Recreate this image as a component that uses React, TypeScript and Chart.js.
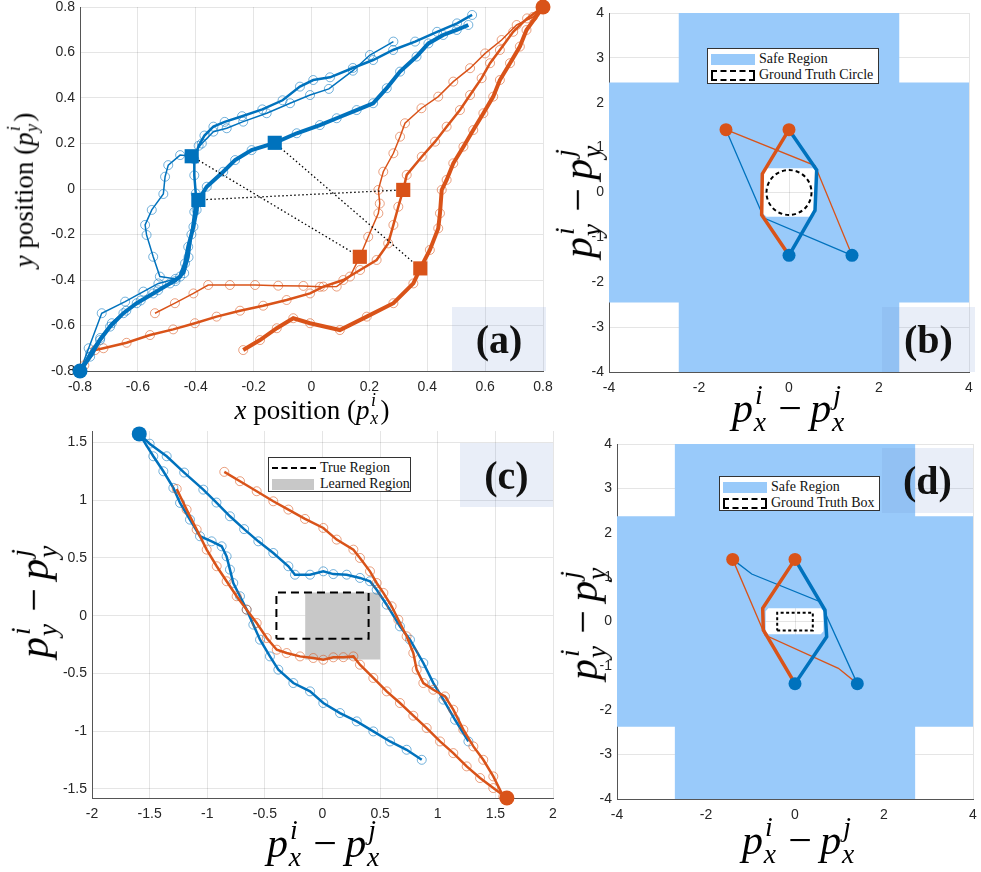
import React, { useEffect, useRef } from 'react';
import { Chart, registerables } from 'chart.js';
Chart.register(...registerables);

type Pt = [number, number];

const BLUE = '#0072BD';
const ORANGE = '#D95319';
const BLUE_MK = 'rgba(0,114,189,0.55)';
const ORANGE_MK = 'rgba(217,83,25,0.55)';
const SAFE = 'rgb(153,202,250)';
const TICK_FONT = "'Liberation Sans', Arial, sans-serif";
const SERIF = "'Liberation Serif', 'Times New Roman', serif";

// ---------- Panel (a) ----------
const aXTicks = [-0.8, -0.6, -0.4, -0.2, 0, 0.2, 0.4, 0.6, 0.8];
const aXTickLabels = ['-0.8', '-0.6', '-0.4', '-0.2', '0', '0.2', '0.4', '0.6', '0.8'];
const aYTicks = [-0.8, -0.6, -0.4, -0.2, 0, 0.2, 0.4, 0.6, 0.8];
const aYTickLabels = ['-0.8', '-0.6', '-0.4', '-0.2', '0', '0.2', '0.4', '0.6', '0.8'];

const aBlueThin: Pt[] = [[-0.8, -0.8], [-0.77, -0.7], [-0.725, -0.546], [-0.644, -0.495], [-0.581, -0.451], [-0.529, -0.415], [-0.47, -0.395], [-0.524, -0.385], [-0.547, -0.298], [-0.57, -0.202], [-0.575, -0.158], [-0.552, -0.092], [-0.512, -0.022], [-0.506, 0.054], [-0.495, 0.105], [-0.454, 0.149], [-0.414, 0.144], [-0.379, 0.2], [-0.339, 0.252], [-0.293, 0.267], [-0.236, 0.296], [-0.155, 0.333], [-0.074, 0.377], [-0.005, 0.413], [0.06, 0.44], [0.143, 0.52], [0.202, 0.589], [0.283, 0.648]];
const aBlueMed: Pt[] = [[-0.8, -0.8], [-0.765, -0.72], [-0.73, -0.655], [-0.69, -0.59], [-0.64, -0.535], [-0.59, -0.49], [-0.53, -0.445], [-0.47, -0.405], [-0.44, -0.37], [-0.425, -0.3], [-0.415, -0.2], [-0.405, -0.1], [-0.4, -0.02], [-0.405, 0.06], [-0.405, 0.13], [-0.39, 0.19], [-0.37, 0.235], [-0.339, 0.274], [-0.3, 0.295], [-0.24, 0.32], [-0.17, 0.35], [-0.1, 0.39], [-0.04, 0.45], [0.006, 0.479], [0.064, 0.491], [0.143, 0.532], [0.213, 0.567], [0.282, 0.611], [0.358, 0.648], [0.434, 0.691], [0.503, 0.728], [0.555, 0.765]];
const aBlueThick: Pt[] = [[-0.8, -0.8], [-0.765, -0.737], [-0.731, -0.664], [-0.696, -0.605], [-0.65, -0.546], [-0.604, -0.502], [-0.547, -0.459], [-0.489, -0.415], [-0.454, -0.385], [-0.437, -0.327], [-0.426, -0.254], [-0.408, -0.166], [-0.397, -0.092], [-0.391, -0.048], [-0.362, 0.01], [-0.305, 0.076], [-0.264, 0.127], [-0.207, 0.171], [-0.127, 0.203], [-0.051, 0.245], [0.029, 0.281], [0.087, 0.311], [0.156, 0.347], [0.213, 0.377], [0.26, 0.443], [0.306, 0.516], [0.363, 0.582], [0.404, 0.64], [0.455, 0.677], [0.502, 0.699], [0.542, 0.721]];
const aOrangeThin: Pt[] = [[0.8, 0.8], [0.765, 0.756], [0.709, 0.721], [0.657, 0.655], [0.6, 0.596], [0.548, 0.531], [0.49, 0.472], [0.438, 0.406], [0.38, 0.355], [0.323, 0.289], [0.306, 0.23], [0.283, 0.157], [0.248, 0.076], [0.231, -0.004], [0.236, -0.064], [0.231, -0.107], [0.196, -0.21], [0.167, -0.298], [0.133, -0.385], [0.087, -0.429], [0.029, -0.43], [-0.028, -0.426], [-0.115, -0.425], [-0.195, -0.422], [-0.282, -0.422], [-0.357, -0.422], [-0.408, -0.459], [-0.472, -0.502], [-0.541, -0.546]];
const aOrangeMed: Pt[] = [[0.8, 0.8], [0.745, 0.75], [0.697, 0.691], [0.651, 0.611], [0.617, 0.553], [0.588, 0.487], [0.548, 0.413], [0.513, 0.347], [0.467, 0.274], [0.427, 0.208], [0.381, 0.142], [0.329, 0.062], [0.317, -0.004], [0.3, -0.078], [0.283, -0.158], [0.265, -0.239], [0.225, -0.312], [0.168, -0.356], [0.11, -0.4], [0.041, -0.429], [-0.005, -0.459], [-0.086, -0.488], [-0.167, -0.513], [-0.247, -0.535], [-0.328, -0.561], [-0.403, -0.59], [-0.478, -0.617], [-0.558, -0.642], [-0.639, -0.676], [-0.719, -0.7], [-0.748, -0.708], [-0.785, -0.775]];
const aOrangeThick: Pt[] = [[0.8, 0.8], [0.743, 0.699], [0.72, 0.626], [0.686, 0.553], [0.651, 0.479], [0.628, 0.406], [0.594, 0.333], [0.559, 0.259], [0.525, 0.186], [0.49, 0.113], [0.467, 0.04], [0.45, -0.004], [0.444, -0.107], [0.438, -0.173], [0.409, -0.268], [0.376, -0.349], [0.352, -0.415], [0.283, -0.502], [0.191, -0.561], [0.098, -0.62], [-0.005, -0.59], [-0.063, -0.568], [-0.12, -0.612], [-0.178, -0.664], [-0.236, -0.708]];
const aBlueSquares: Pt[] = [[-0.414, 0.144], [-0.127, 0.203], [-0.391, -0.048]];
const aOrangeSquares: Pt[] = [[0.167, -0.298], [0.376, -0.349], [0.317, -0.004]];
const aBlueStart: Pt[] = [[-0.8, -0.8]];
const aOrangeStart: Pt[] = [[0.8, 0.8]];

// ---------- Panel (b) ----------
const bdXTicks = [-4, -2, 0, 2, 4];
const bdXTickLabels = ['-4', '-2', '0', '2', '4'];
const bdYTicks = [-4, -3, -2, -1, 0, 1, 2, 3, 4];
const bdYTickLabels = ['-4', '-3', '-2', '-1', '0', '1', '2', '3', '4'];

const bSafeOuter: Pt[] = [[-2.45, -4], [2.45, -4], [2.45, -2.45], [4, -2.45], [4, 2.45], [2.45, 2.45], [2.45, 4], [-2.45, 4], [-2.45, 2.45], [-4, 2.45], [-4, -2.45], [-2.45, -2.45]];
const bSafeHole: Pt[] = [[-0.5, -0.54], [0.52, -0.54], [0.6, -0.45], [0.62, 0.44], [0.54, 0.54], [-0.5, 0.54], [-0.58, 0.46], [-0.6, -0.45]];
const bGroundCircle = { cx: 0, cy: 0, r: 0.5 };
const bOrangeThick: Pt[] = [[0, 1.4], [-0.593, 0.414], [-0.607, -0.5], [0, -1.4]];
const bBlueThick: Pt[] = [[0, -1.4], [0.578, -0.4], [0.615, 0.5], [0, 1.4]];
const bOrangeThin: Pt[] = [[-1.4, 1.4], [0.578, 0.6], [1.4, -1.4]];
const bBlueThin: Pt[] = [[1.4, -1.4], [-0.556, -0.57], [-1.4, 1.4]];
const bOrangeDots: Pt[] = [[-1.4, 1.4], [0, 1.4]];
const bBlueDots: Pt[] = [[0, -1.4], [1.4, -1.4]];

// ---------- Panel (c) ----------
const cXTicks = [-2, -1.5, -1, -0.5, 0, 0.5, 1, 1.5, 2];
const cXTickLabels = ['-2', '-1.5', '-1', '-0.5', '0', '0.5', '1', '1.5', '2'];
const cYTicks = [-1.5, -1, -0.5, 0, 0.5, 1, 1.5];
const cYTickLabels = ['-1.5', '-1', '-0.5', '0', '0.5', '1', '1.5'];

const cBlueUpper: Pt[] = [[-1.59, 1.575], [-1.5, 1.49], [-1.352, 1.381], [-1.2, 1.24], [-1.034, 1.092], [-0.92, 0.98], [-0.803, 0.861], [-0.68, 0.75], [-0.557, 0.644], [-0.427, 0.543], [-0.296, 0.428], [-0.239, 0.355], [-0.108, 0.355], [0.007, 0.384], [0.094, 0.36], [0.21, 0.355], [0.325, 0.327], [0.412, 0.298], [0.47, 0.225], [0.557, 0.095], [0.672, -0.093], [0.759, -0.208], [0.875, -0.41], [0.962, -0.584], [1.049, -0.728], [1.15, -0.902], [1.266, -1.09]];
const cBlueLower: Pt[] = [[-1.59, 1.575], [-1.468, 1.381], [-1.381, 1.251], [-1.294, 1.107], [-1.236, 0.977], [-1.15, 0.832], [-1.063, 0.688], [-0.962, 0.644], [-0.875, 0.601], [-0.832, 0.514], [-0.803, 0.399], [-0.774, 0.283], [-0.716, 0.168], [-0.658, 0.052], [-0.6, -0.078], [-0.542, -0.208], [-0.456, -0.353], [-0.383, -0.468], [-0.253, -0.584], [-0.108, -0.656], [0.007, -0.757], [0.152, -0.844], [0.297, -0.916], [0.441, -1.003], [0.586, -1.09], [0.73, -1.162], [0.861, -1.249]];
const cOrangeUpper: Pt[] = [[-0.852, 1.246], [-0.716, 1.165], [-0.571, 1.078], [-0.427, 0.991], [-0.296, 0.919], [-0.152, 0.838], [0.007, 0.76], [0.123, 0.659], [0.268, 0.572], [0.325, 0.5], [0.412, 0.384], [0.47, 0.283], [0.528, 0.197], [0.6, 0.081], [0.658, -0.035], [0.73, -0.179], [0.788, -0.324], [0.817, -0.468], [0.875, -0.584], [0.962, -0.642], [1.063, -0.7], [1.135, -0.815], [1.222, -0.988], [1.309, -1.133], [1.395, -1.249], [1.482, -1.393], [1.569, -1.567], [1.6, -1.58]];
const cOrangeLower: Pt[] = [[-1.265, 1.098], [-1.179, 0.919], [-1.092, 0.746], [-1.005, 0.572], [-0.918, 0.428], [-0.832, 0.298], [-0.745, 0.168], [-0.658, 0.052], [-0.571, -0.064], [-0.484, -0.194], [-0.397, -0.295], [-0.311, -0.324], [-0.195, -0.353], [-0.08, -0.367], [0.007, -0.382], [0.094, -0.361], [0.181, -0.36], [0.268, -0.353], [0.325, -0.425], [0.441, -0.54], [0.557, -0.656], [0.672, -0.757], [0.788, -0.867], [0.904, -0.974], [1.02, -1.09], [1.135, -1.191], [1.251, -1.306], [1.367, -1.407], [1.482, -1.494], [1.6, -1.58]];
const cTrueRegion: Pt[] = [[-0.4, -0.2], [0.4, -0.2], [0.4, 0.2], [-0.4, 0.2]];
const cLearnedRegion: Pt[] = [[-0.15, -0.38], [0.5, -0.38], [0.5, 0.2], [-0.15, 0.2]];
const cBlueStart: Pt[] = [[-1.59, 1.575]];
const cOrangeStart: Pt[] = [[1.6, -1.58]];

// ---------- Panel (d) ----------
const dSafeOuter: Pt[] = [[-2.7, -4], [2.7, -4], [2.7, -2.37], [4, -2.37], [4, 2.37], [2.7, 2.37], [2.7, 4], [-2.7, 4], [-2.7, 2.37], [-4, 2.37], [-4, -2.37], [-2.7, -2.37]];
const dSafeHole: Pt[] = [[-0.6, -0.29], [0.58, -0.29], [0.64, -0.22], [0.64, 0.23], [0.58, 0.3], [-0.6, 0.3], [-0.66, 0.23], [-0.66, -0.22]];
const dGroundBox: Pt[] = [[-0.4, -0.2], [0.4, -0.2], [0.4, 0.2], [-0.4, 0.2]];
const dOrangeThick: Pt[] = [[0, 1.4], [-0.726, 0.297], [-0.712, -0.19], [0, -1.4]];
const dBlueThick: Pt[] = [[0, -1.4], [0.712, -0.342], [0.674, 0.259], [0, 1.4]];
const dBlueThin: Pt[] = [[-1.4, 1.4], [-0.973, 1.07], [0.562, 0.446], [1.4, -1.4]];
const dOrangeThin: Pt[] = [[-1.4, 1.4], [-0.674, -0.304], [0.975, -1.055], [1.4, -1.4]];
const dOrangeDots: Pt[] = [[-1.4, 1.4], [0, 1.4]];
const dBlueDots: Pt[] = [[0, -1.4], [1.4, -1.4]];

// ---------- dataset helpers ----------
const toXY = (p: Pt[]) => p.map(([x, y]) => ({ x, y }));

function traj(p: Pt[], color: string, mk: string, width: number, order = 3) {
  return { data: toXY(p), borderColor: color, borderWidth: width, pointRadius: 4.5, pointStyle: 'circle', pointBorderColor: mk, pointBackgroundColor: 'rgba(0,0,0,0)', pointBorderWidth: 1, clip: false, fill: false, order };
}
function plainLine(p: Pt[], color: string, width: number, order = 3, dash: number[] = []) {
  return { data: toXY(p), borderColor: color, borderWidth: width, borderDash: dash, pointRadius: 0, clip: false, fill: false, order };
}
function marks(p: Pt[], color: string, r: number, style = 'circle', order = 0) {
  return { data: toXY(p), showLine: false, pointRadius: r, pointStyle: style, pointBackgroundColor: color, pointBorderColor: color, pointBorderWidth: 0, clip: false, order };
}
function closedDashed(p: Pt[], dash: number[], width: number, order = 1) {
  return { data: toXY([...p, p[0]]), borderColor: '#000', borderWidth: width, borderDash: dash, pointRadius: 0, fill: false, order };
}
function filledPoly(p: Pt[], color: string, order = 10) {
  return { data: toXY([...p, p[0]]), fill: 'shape', backgroundColor: color, borderWidth: 0, borderColor: 'rgba(0,0,0,0)', pointRadius: 0, order };
}
function regionWithHole(outer: Pt[], hole: Pt[], color: string, order = 10) {
  const h = hole.slice().reverse();
  return { data: toXY([...outer, outer[0], ...h, h[0], outer[0]]), fill: 'shape', backgroundColor: color, borderWidth: 0, borderColor: 'rgba(0,0,0,0)', pointRadius: 0, order };
}

const circlePlugin = {
  id: 'gtCircle',
  afterDatasetsDraw(chart: any) {
    const { ctx, scales } = chart;
    const x = scales.x, y = scales.y;
    const cx = x.getPixelForValue(bGroundCircle.cx);
    const cy = y.getPixelForValue(bGroundCircle.cy);
    const rx = Math.abs(x.getPixelForValue(bGroundCircle.cx + bGroundCircle.r) - cx);
    const ry = Math.abs(y.getPixelForValue(bGroundCircle.cy + bGroundCircle.r) - cy);
    ctx.save();
    ctx.setLineDash([4, 3]);
    ctx.lineWidth = 2;
    ctx.strokeStyle = '#000';
    ctx.beginPath();
    ctx.ellipse(cx, cy, rx, ry, 0, 0, Math.PI * 2);
    ctx.stroke();
    ctx.restore();
  },
};

// ---------- panels ----------
const aDotted = aBlueSquares.map((b, i) => plainLine([b, aOrangeSquares[i]], '#000', 1.3, 1, [1.5, 2.5]));

const panels: any[] = [
  {
    rect: { l: 80, t: 7, w: 463, h: 364 }, xr: [-0.8, 0.8], yr: [-0.8, 0.8],
    xt: aXTicks, xl: aXTickLabels, yt: aYTicks, yl: aYTickLabels,
    datasets: [
      traj(aBlueThin, BLUE, BLUE_MK, 1.5, 5),
      traj(aBlueMed, BLUE, BLUE_MK, 2.5, 4),
      traj(aBlueThick, BLUE, BLUE_MK, 4, 3),
      traj(aOrangeThin, ORANGE, ORANGE_MK, 1.5, 5),
      traj(aOrangeMed, ORANGE, ORANGE_MK, 2.5, 4),
      traj(aOrangeThick, ORANGE, ORANGE_MK, 4, 3),
      ...aDotted,
      marks(aBlueSquares, BLUE, 10, 'rect', 0),
      marks(aOrangeSquares, ORANGE, 10, 'rect', 0),
      marks(aBlueStart, BLUE, 7.5),
      marks(aOrangeStart, ORANGE, 7.5),
    ],
    plugins: [],
  },
  {
    rect: { l: 609, t: 13, w: 360, h: 359 }, xr: [-4, 4], yr: [-4, 4],
    xt: bdXTicks, xl: bdXTickLabels, yt: bdYTicks, yl: bdYTickLabels,
    datasets: [
      regionWithHole(bSafeOuter, bSafeHole, SAFE, 10),
      plainLine(bOrangeThin, ORANGE, 1.3, 4),
      plainLine(bBlueThin, BLUE, 1.3, 4),
      plainLine(bOrangeThick, ORANGE, 3.5, 3),
      plainLine(bBlueThick, BLUE, 3.5, 3),
      marks(bOrangeDots, ORANGE, 6.5),
      marks(bBlueDots, BLUE, 6.5),
    ],
    plugins: [circlePlugin],
  },
  {
    rect: { l: 92, t: 431, w: 461, h: 367 }, xr: [-2, 2], yr: [-1.58, 1.6],
    xt: cXTicks, xl: cXTickLabels, yt: cYTicks, yl: cYTickLabels,
    datasets: [
      filledPoly(cLearnedRegion, 'rgb(200,200,200)', 10),
      closedDashed(cTrueRegion, [8, 5], 2, 9),
      traj(cBlueUpper, BLUE, BLUE_MK, 2.5, 4),
      traj(cBlueLower, BLUE, BLUE_MK, 2.5, 4),
      traj(cOrangeUpper, ORANGE, ORANGE_MK, 2.5, 3),
      traj(cOrangeLower, ORANGE, ORANGE_MK, 2.5, 3),
      marks(cBlueStart, BLUE, 7.5),
      marks(cOrangeStart, ORANGE, 7.5),
    ],
    plugins: [],
  },
  {
    rect: { l: 617, t: 444, w: 356, h: 355 }, xr: [-4, 4], yr: [-4, 4],
    xt: bdXTicks, xl: bdXTickLabels, yt: bdYTicks, yl: bdYTickLabels,
    datasets: [
      regionWithHole(dSafeOuter, dSafeHole, SAFE, 10),
      closedDashed(dGroundBox, [3, 2.5], 2, 1),
      plainLine(dOrangeThin, ORANGE, 1.3, 4),
      plainLine(dBlueThin, BLUE, 1.3, 4),
      plainLine(dOrangeThick, ORANGE, 3.5, 3),
      plainLine(dBlueThick, BLUE, 3.5, 3),
      marks(dOrangeDots, ORANGE, 6.5),
      marks(dBlueDots, BLUE, 6.5),
    ],
    plugins: [],
  },
];

const ML = 50, MR = 20, MT = 15, MB = 30;

function Panel({ cfg }: { cfg: any }) {
  const ref = useRef<HTMLCanvasElement>(null);
  useEffect(() => {
    const axis = (min: number, max: number, ticks: number[], labels: string[], isX: boolean) => ({
      type: 'linear',
      min, max,
      afterBuildTicks: (s: any) => { s.ticks = ticks.map((v) => ({ value: v })); },
      afterFit: (s: any) => { if (isX) s.height = MB; else s.width = ML; },
      ticks: {
        autoSkip: false, maxRotation: 0, padding: isX ? 8 : 5, color: '#262626',
        font: { family: TICK_FONT, size: 14 },
        callback: (_v: any, i: number) => labels[i],
      },
      grid: { color: 'rgba(0,0,0,0.1)', lineWidth: 1, drawTicks: false },
      border: { display: true, color: '#555', width: 1 },
    });
    const chart = new Chart(ref.current as HTMLCanvasElement, {
      type: 'line',
      data: { datasets: cfg.datasets },
      options: {
        responsive: false,
        animation: false,
        events: [],
        layout: { padding: { left: 0, right: MR, top: MT, bottom: 0 } },
        plugins: { legend: { display: false }, tooltip: { enabled: false } },
        elements: { line: { tension: 0 } },
        scales: {
          x: axis(cfg.xr[0], cfg.xr[1], cfg.xt, cfg.xl, true),
          y: axis(cfg.yr[0], cfg.yr[1], cfg.yt, cfg.yl, false),
        },
      } as any,
      plugins: cfg.plugins,
    });
    return () => chart.destroy();
  }, [cfg]);
  const { l, t, w, h } = cfg.rect;
  const W = w + ML + MR, H = h + MT + MB;
  return (
    <canvas ref={ref} width={W} height={H}
      style={{ position: 'absolute', left: l - ML, top: t - MT, width: W, height: H }} />
  );
}

function PV({ sub, sup, size }: { sub: string; sup: string; size: number }) {
  const s = size * 0.66;
  return (
    <span style={{ whiteSpace: 'nowrap' }}>
      <i>p</i>
      <span style={{ display: 'inline-block', position: 'relative', width: size * 0.4, height: 1 }}>
        <i style={{ position: 'absolute', left: size * 0.05, top: -size * 0.95, fontSize: s, lineHeight: 1 }}>{sup}</i>
        <i style={{ position: 'absolute', left: size * 0.02, top: -size * 0.3, fontSize: s, lineHeight: 1 }}>{sub}</i>
      </span>
    </span>
  );
}

function DiffLabel({ axis, size }: { axis: string; size: number }) {
  return (
    <span>
      <PV sub={axis} sup="i" size={size} />
      <span style={{ margin: `0 ${size * 0.2}px` }}>−</span>
      <PV sub={axis} sup="j" size={size} />
    </span>
  );
}

function TextAt({ x, y, rot, size, children }: any) {
  return (
    <div style={{
      position: 'absolute', left: x, top: y, transform: `translate(-50%,-50%)${rot ? ' rotate(-90deg)' : ''}`,
      fontFamily: SERIF, fontSize: size, lineHeight: 1.2, whiteSpace: 'nowrap', color: '#000',
    }}>{children}</div>
  );
}

function Tag({ l, t, w, h, text }: any) {
  return (
    <div style={{
      position: 'absolute', left: l, top: t, width: w, height: h, background: 'rgba(110,140,210,0.15)',
      display: 'flex', alignItems: 'center', justifyContent: 'center',
      fontFamily: SERIF, fontWeight: 'bold', fontSize: 40, color: '#111',
    }}>{text}</div>
  );
}

function Legend({ l, t, w, h, rows }: any) {
  return (
    <div style={{
      position: 'absolute', left: l, top: t, width: w, height: h, boxSizing: 'border-box',
      border: '1px solid #333', background: '#fff', fontFamily: SERIF, fontSize: 14, color: '#111',
    }}>
      {rows.map((r: any, i: number) => (
        <div key={i} style={{ position: 'absolute', left: 3, top: 2 + i * 16, height: 16, display: 'flex', alignItems: 'center' }}>
          <div style={{ width: 44, height: 16, position: 'relative', marginRight: 4 }}>{r.swatch}</div>
          <span>{r.label}</span>
        </div>
      ))}
    </div>
  );
}

const swSafe = <div style={{ position: 'absolute', left: 0, top: 3, width: 44, height: 11, background: SAFE }} />;
const swDashBox = <div style={{ position: 'absolute', left: 0, top: 3, width: 44, height: 11, border: '2px dashed #000', boxSizing: 'border-box' }} />;
const swDashLine = <div style={{ position: 'absolute', left: 0, top: 7, width: 44, height: 0, borderTop: '2.5px dashed #000' }} />;
const swGray = <div style={{ position: 'absolute', left: 0, top: 3, width: 42, height: 11, background: 'rgb(200,200,200)' }} />;

export default function App() {
  return (
    <div style={{ position: 'absolute', left: 0, top: 0, width: 981, height: 872, overflow: 'hidden', background: '#fff' }}>
      {panels.map((p, i) => <Panel key={i} cfg={p} />)}

      <Tag l={452} t={307} w={94} h={64} text="(a)" />
      <Tag l={882} t={307} w={93} h={65} text="(b)" />
      <Tag l={460} t={443} w={93} h={64} text="(c)" />
      <Tag l={882} t={448} w={91} h={65} text="(d)" />

      <Legend l={707} t={48} w={172} h={36} rows={[{ swatch: swSafe, label: 'Safe Region' }, { swatch: swDashBox, label: 'Ground Truth Circle' }]} />
      <Legend l={268} t={457} w={143} h={35} rows={[{ swatch: swDashLine, label: 'True Region' }, { swatch: swGray, label: 'Learned Region' }]} />
      <Legend l={719} t={476} w={161} h={35} rows={[{ swatch: swSafe, label: 'Safe Region' }, { swatch: swDashBox, label: 'Ground Truth Box' }]} />

      <TextAt x={312} y={410} size={27}><i>x</i> position (<PV sub="x" sup="i" size={27} />)</TextAt>
      <TextAt x={24} y={190} size={27} rot><i>y</i> position (<PV sub="y" sup="i" size={27} />)</TextAt>

      <TextAt x={790} y={408} size={42}><DiffLabel axis="x" size={42} /></TextAt>
      <TextAt x={578} y={200} size={42} rot><DiffLabel axis="y" size={42} /></TextAt>

      <TextAt x={325} y={843} size={42}><DiffLabel axis="x" size={42} /></TextAt>
      <TextAt x={34} y={600} size={42} rot><DiffLabel axis="y" size={42} /></TextAt>

      <TextAt x={800} y={840} size={42}><DiffLabel axis="x" size={42} /></TextAt>
      <TextAt x={583} y={622} size={42} rot><DiffLabel axis="y" size={42} /></TextAt>
    </div>
  );
}
